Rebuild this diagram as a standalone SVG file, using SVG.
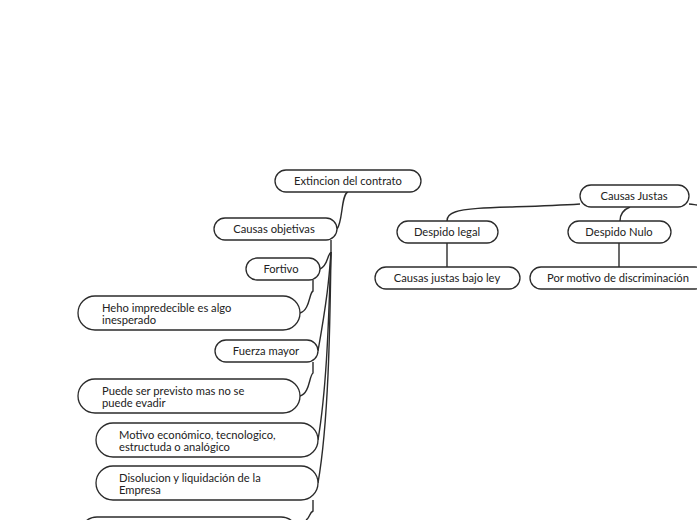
<svg xmlns="http://www.w3.org/2000/svg" width="697" height="520" viewBox="0 0 697 520">
<style>
.n rect{fill:#fff;stroke:#2b2b2b;stroke-width:1.3}
.n text{font-family:Lato,"Noto Sans",sans-serif;font-size:11.2px;fill:#222}
.c{text-anchor:middle}
.e path{fill:none;stroke:#2b2b2b;stroke-width:1.4}
</style>
<rect width="697" height="520" fill="#fff"/>
<g class="e" id="connectors">
<path d="M348,192 C341,194 343,222 337,229"/>
<path d="M331,240 L331,252 C327,255 328,266 320,269"/>
<path d="M331,252 C329,280 327,300 318,351"/>
<path d="M331,252 C329,300 328,380 318,440"/>
<path d="M331,252 C330,320 329,420 318,483"/>
<path d="M313,280 L313,291 C309,293 310,310 300,313"/>
<path d="M313,362 L313,373 C309,376 310,393 300,396"/>
<path d="M313,500 L313,511 C309,513 310,518 306,520"/>
<path d="M580,204 C520,208 470,206 455,212 C449,214 447,217 447,221"/>
<path d="M689,204 C693,204 695,205 697,205"/>
<path d="M630,207 C625,209 620,213 620,221"/>
<path d="M447,243 L447,267"/>
<path d="M619,243 L619,267"/>
</g>
<g class="n" id="n-extincion"><rect x="275" y="170" width="146" height="22" rx="11"/><text class="c" x="348" y="185">Extincion del contrato</text></g>
<g class="n" id="n-objetivas"><rect x="214" y="218" width="123" height="22" rx="11"/><text class="c" x="274" y="233">Causas objetivas</text></g>
<g class="n" id="n-fortivo"><rect x="246" y="258" width="74" height="22" rx="11"/><text class="c" x="281" y="273">Fortivo</text></g>
<g class="n" id="n-heho"><rect x="78" y="296" width="222" height="34" rx="17"/><text x="102" y="312">Heho impredecible es algo</text><text x="102" y="324">inesperado</text></g>
<g class="n" id="n-fuerza"><rect x="215" y="340" width="103" height="22" rx="11"/><text class="c" x="266" y="355">Fuerza mayor</text></g>
<g class="n" id="n-puede"><rect x="78" y="379" width="222" height="34" rx="17"/><text x="102" y="395">Puede ser previsto mas no se</text><text x="102" y="407">puede evadir</text></g>
<g class="n" id="n-motivo"><rect x="96" y="423" width="222" height="34" rx="17"/><text x="119" y="439">Motivo económico, tecnologico,</text><text x="119" y="451">estructuda o analógico</text></g>
<g class="n" id="n-disolucion"><rect x="96" y="466" width="222" height="34" rx="17"/><text x="119" y="482">Disolucion y liquidación de la</text><text x="119" y="494">Empresa</text></g>
<g class="n" id="n-bottom"><rect x="80" y="517" width="218" height="34" rx="17"/></g>
<g class="n" id="n-justas"><rect x="580" y="185" width="109" height="22" rx="11"/><text class="c" x="634" y="200">Causas Justas</text></g>
<g class="n" id="n-legal"><rect x="397" y="221" width="101" height="22" rx="11"/><text class="c" x="447" y="236">Despido legal</text></g>
<g class="n" id="n-nulo"><rect x="568" y="221" width="103" height="22" rx="11"/><text class="c" x="619" y="236">Despido Nulo</text></g>
<g class="n" id="n-ley"><rect x="375" y="267" width="145" height="22" rx="11"/><text class="c" x="447" y="282">Causas justas bajo ley</text></g>
<g class="n" id="n-discriminacion"><rect x="530" y="267" width="176" height="22" rx="11"/><text class="c" x="618" y="282">Por motivo de discriminación</text></g>
</svg>
